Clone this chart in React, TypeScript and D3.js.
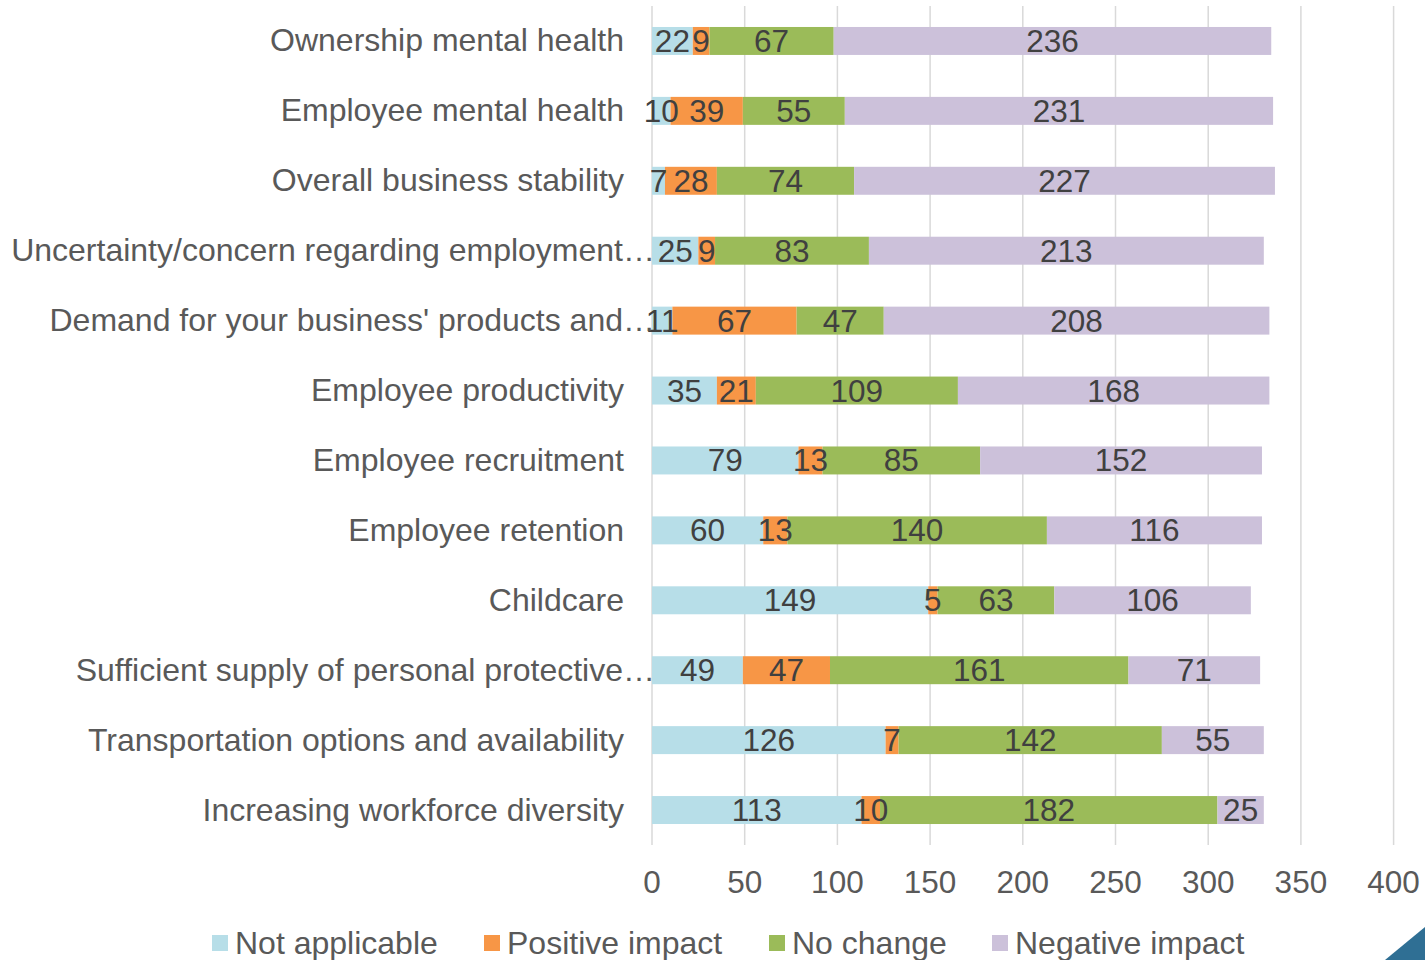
import * as d3 from 'd3';

const categories = [
  'Ownership mental health',
  'Employee mental health',
  'Overall business stability',
  'Uncertainty/concern regarding employment…',
  "Demand for your business' products and…",
  'Employee productivity',
  'Employee recruitment',
  'Employee retention',
  'Childcare',
  'Sufficient supply of personal protective…',
  'Transportation options and availability',
  'Increasing workforce diversity',
];

const seriesNames = ['Not applicable', 'Positive impact', 'No change', 'Negative impact'];
const seriesColors = ['#B7DEE8', '#F79646', '#9BBB59', '#CCC1DA'];

const notApplicable = [22, 10, 7, 25, 11, 35, 79, 60, 149, 49, 126, 113];
const positiveImpact = [9, 39, 28, 9, 67, 21, 13, 13, 5, 47, 7, 10];
const noChange = [67, 55, 74, 83, 47, 109, 85, 140, 63, 161, 142, 182];
const negativeImpact = [236, 231, 227, 213, 208, 168, 152, 116, 106, 71, 55, 25];

const xTicks = [0, 50, 100, 150, 200, 250, 300, 350, 400];

export default function App() {
  const width = 1425;
  const height = 960;
  const left = 652;
  const right = 1393.6;
  const top = 6;
  const bottom = 845;
  const font = 'Liberation Sans, Arial, sans-serif';

  const x = d3.scaleLinear().domain([0, 400]).range([left, right]);
  const y = d3.scaleBand<string>().domain(categories).range([top, bottom]).paddingInner(0.6).paddingOuter(0.3);

  const rows = categories.map((c, i) => ({
    cat: c,
    vals: [notApplicable[i], positiveImpact[i], noChange[i], negativeImpact[i]],
  }));

  const legendX = [212, 484, 769, 992];

  return (
    <svg width={width} height={height} style={{ position: 'absolute', left: 0, top: 0 }} fontFamily={font}>
      <rect x={0} y={0} width={width} height={height} fill="#fff" />
      {xTicks.map(t => (
        <line key={t} x1={x(t)} x2={x(t)} y1={top} y2={bottom} stroke="#D9D9D9" strokeWidth={1.5} />
      ))}
      {rows.map(r => {
        let acc = 0;
        const y0 = y(r.cat)!;
        const bh = y.bandwidth();
        return (
          <g key={r.cat}>
            {r.vals.map((v, j) => {
              const x0 = x(acc);
              acc += v;
              const x1 = x(acc);
              return <rect key={j} x={x0} y={y0} width={x1 - x0} height={bh} fill={seriesColors[j]} />;
            })}
          </g>
        );
      })}
      {rows.map(r => {
        let acc = 0;
        const cy = y(r.cat)! + y.bandwidth() / 2;
        return (
          <g key={r.cat + 'l'}>
            {r.vals.map((v, j) => {
              const mid = x(acc + v / 2);
              acc += v;
              return (
                <text key={j} x={mid} y={cy + 11} textAnchor="middle" fontSize={31.5} fill="#404040">
                  {v}
                </text>
              );
            })}
            <text
              x={r.cat.endsWith('…') ? 655 : 624}
              y={cy + 10.5}
              textAnchor="end"
              fontSize={32}
              fill="#595959"
            >
              {r.cat}
            </text>
          </g>
        );
      })}
      {xTicks.map(t => (
        <text key={'t' + t} x={x(t)} y={893} textAnchor="middle" fontSize={31.5} fill="#595959">
          {t}
        </text>
      ))}
      {seriesNames.map((s, i) => (
        <g key={s}>
          <rect x={legendX[i]} y={935} width={16} height={16} fill={seriesColors[i]} />
          <text x={legendX[i] + 23} y={953.5} fontSize={32} fill="#595959">
            {s}
          </text>
        </g>
      ))}
      <polygon points="1385,960 1425,927 1425,960" fill="#2F6F94" />
    </svg>
  );
}
